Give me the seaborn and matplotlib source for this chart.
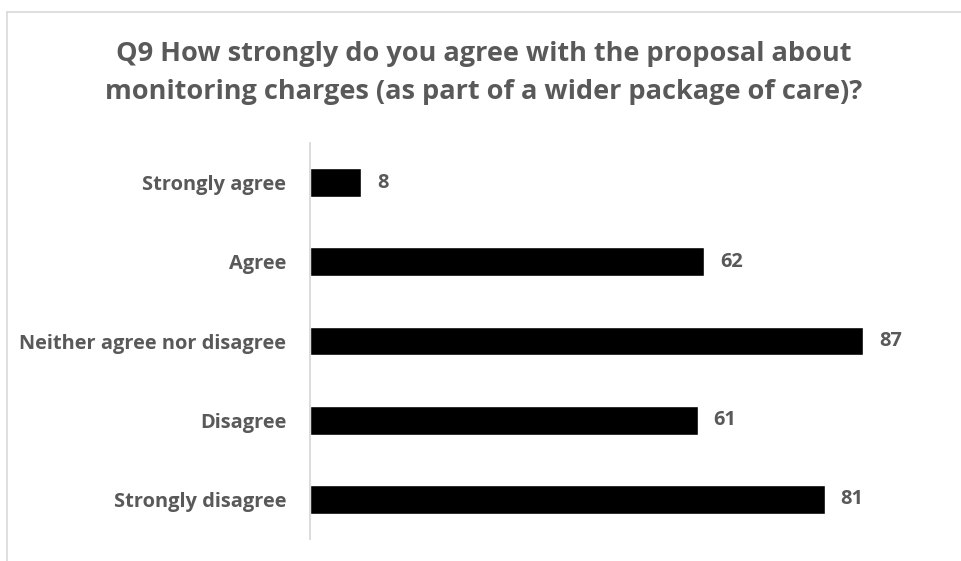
import matplotlib
matplotlib.use("Agg")
import matplotlib.pyplot as plt
from matplotlib.lines import Line2D
import seaborn as sns
import pandas as pd

categories = ["Strongly agree", "Agree", "Neither agree nor disagree", "Disagree", "Strongly disagree"]
responses = [8, 62, 87, 61, 81]
title = "Q9 How strongly do you agree with the proposal about\nmonitoring charges (as part of a wider package of care)?"

sns.set_theme(style="white")
plt.rcParams["font.family"] = ["Open Sans", "DejaVu Sans"]

TEXT = "#595959"
GRID = "#D9D9D9"
W, H = 962, 561

fig = plt.figure(figsize=(W / 100, H / 100), dpi=100)
fig.patch.set_facecolor("white")
ax = fig.add_axes([310 / W, 1 - 539 / H, 635.4 / W, 396 / H])

df = pd.DataFrame({"category": categories, "count": responses})
sns.barplot(data=df, x="count", y="category", orient="h", color="black",
            saturation=1, width=0.366, ax=ax)

ax.set_xlim(0, 100)
ax.set_xlabel("")
ax.set_ylabel("")
ax.set_xticks([])
for side in ["top", "right", "bottom"]:
    ax.spines[side].set_visible(False)
ax.spines["left"].set_color(GRID)
ax.spines["left"].set_linewidth(1.3)
ax.tick_params(axis="y", length=0, pad=17, labelsize=14.4, labelcolor=TEXT)
for lbl in ax.get_yticklabels():
    lbl.set_fontweight("bold")

for i, v in enumerate(responses):
    ax.annotate(str(v), xy=(v, i), xytext=(11.5, 0), textcoords="offset points",
                ha="left", va="center", fontsize=14.4, fontweight="bold", color=TEXT)

fig.text(0.503, 1 - 41 / H, title, ha="center", va="top", fontsize=19.5,
         fontweight="bold", color=TEXT, linespacing=1.6)

# outer chart frame
fig.add_artist(Line2D([7 / W, 1.0], [1 - 12 / H, 1 - 12 / H], transform=fig.transFigure,
                      color=GRID, lw=1.2))
fig.add_artist(Line2D([7 / W, 7 / W], [0.0, 1 - 12 / H], transform=fig.transFigure,
                      color=GRID, lw=1.2))

fig.savefig("out.png", dpi=100)
